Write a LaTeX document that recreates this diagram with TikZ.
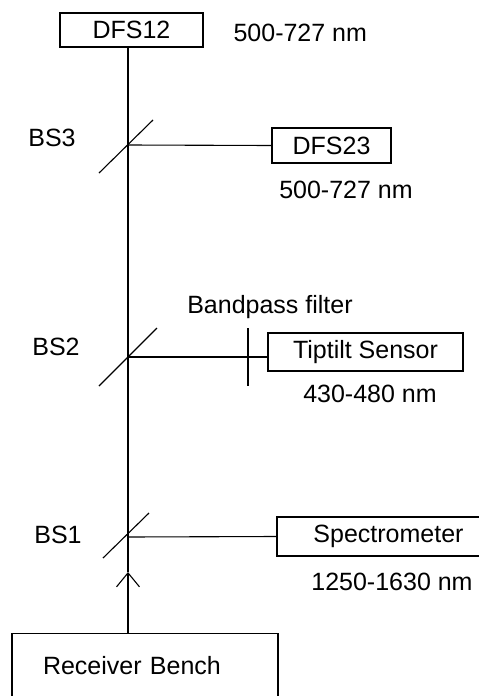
\documentclass[tikz,border=0pt]{standalone}
\usepackage{fontspec}
\setmainfont{Liberation Sans}
\usetikzlibrary{arrows.meta, positioning, calc}

\begin{document}
\begin{tikzpicture}[
  x=1pt, y=-1pt,
  line width=1.1pt,
  unit/.style={
    rectangle, draw, inner sep=0pt,
    minimum width=#1, font=\fontsize{25}{30}\selectfont
  },
  tag/.style={font=\fontsize{25}{30}\selectfont, inner sep=0pt}
]
  \clip (0,0) rectangle (479,696);
  \fill[white] (0,0) rectangle (479,696);

  % beam splitters on the main axis
  \coordinate (bs3) at (128,145);
  \coordinate (bs2) at (128,357);
  \coordinate (bs1) at (128,537);
  \coordinate (tip) at (128,572);
  \coordinate (bpf) at (248,357);

  % instruments
  \node[unit=143pt, minimum height=34pt] (dfs12) at (131.5,30) {DFS12};
  \node[unit=119pt, minimum height=35pt] (dfs23) at (331.5,145.5) {DFS23};
  \node[unit=195pt, minimum height=38pt] (tts) at (365.5,352) {Tiptilt Sensor};
  \node[unit=223pt, minimum height=39pt] (spec) at (388.5,536.5) {Spectrometer};
  \node[unit=266pt, minimum height=64pt, anchor=north,
        text width=204pt, align=left, inner xsep=31pt] (bench) at (145,633) {Receiver Bench};

  % beam path
  \draw[-{Straight Barb[length=14pt,width=23pt]}] (bench.north -| tip) -- (tip);
  \draw (tip) -- (bs1) -- (bs2) -- (bs3) -- (dfs12.south -| bs3);
  \draw (bs3) -- (dfs23.west);
  \draw (bs2) -- (bs2 -| tts.west);
  \draw (bs1) -- (spec.west);

  % splitters and filter
  \draw ($(bs3)+(-29,28)$) -- ($(bs3)+(25,-25)$);
  \draw ($(bs2)+(-29,29)$) -- ($(bs2)+(29,-29)$);
  \draw ($(bs1)+(-25,21)$) -- ($(bs1)+(21,-24)$);
  \draw ($(bpf)+(0,-29)$) -- ($(bpf)+(0,29)$);

  % labels
  \node[tag] (lbs3) at (52,138) {BS3};
  \node[tag] (lbs2) at (56,347) {BS2};
  \node[tag] (lbs1) at (58,535) {BS1};
  \node[tag, anchor=west] (band12) at (233,33) {500-727 nm};
  \node[tag] (band23) at (346,190) {500-727 nm};
  \node[tag] (lbpf) at (270,307) {Bandpass filter};
  \node[tag] (bandtt) at (370,394) {430-480 nm};
  \node[tag] (bandsp) at (392,582) {1250-1630 nm};
\end{tikzpicture}
\end{document}
